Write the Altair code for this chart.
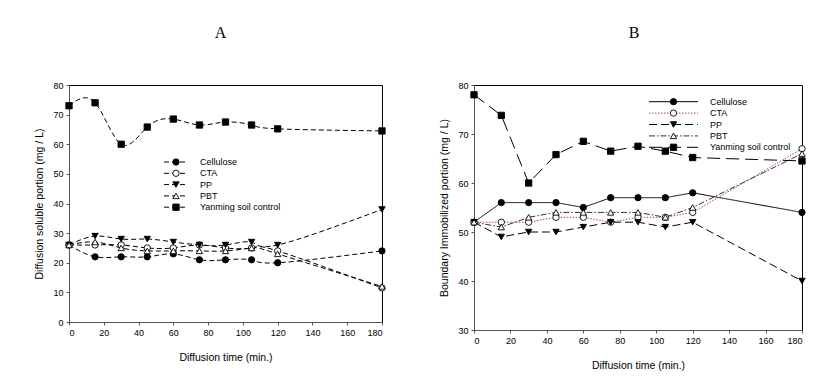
import altair as alt
import pandas as pd

# ---- data ----
time = [0, 15, 30, 45, 60, 75, 90, 105, 120, 180]
series = ["Cellulose", "CTA", "PP", "PBT", "Yanming soil control"]

# Panel A: diffusion soluble portion (mg/L)
a_cellulose = [26, 22, 22, 22, 23, 21, 21, 21, 20, 24]
a_cta = [26, 26, 26, 25, 25, 26, 25, 25, 24, 11.5]
a_pp = [26, 29, 28, 28, 27, 26, 26, 27, 26, 38]
a_pbt = [26, 27, 25, 24, 24, 24, 24, 25, 23, 12]
a_yanming = [73, 74, 60, 65.8, 68.5, 66.5, 67.5, 66.5, 65.2, 64.5]

# Panel B: boundary immobilized portion (mg/L)
b_cellulose = [52, 56, 56, 56, 55, 57, 57, 57, 58, 54]
b_cta = [52, 52, 52, 53, 53, 52, 53, 53, 54, 67]
b_pp = [52, 49, 50, 50, 51, 52, 52, 51, 52, 40]
b_pbt = [52, 51, 53, 54, 54, 54, 54, 53, 55, 66]
b_yanming = [78, 73.8, 60, 65.8, 68.5, 66.5, 67.5, 66.5, 65.2, 64.5]

shapes = ["circle", "circle", "triangle-down", "triangle-up", "square"]
fills = ["black", "white", "black", "white", "black"]

FONT = "Liberation Sans"


def long_df(cols):
    rows = []
    for name, vals in zip(series, cols):
        for t, v in zip(time, vals):
            rows.append({"time": t, "value": v, "series": name})
    return pd.DataFrame(rows)


def panel(cols, ydomain, ytitle, title, colors, dashes, interp, w, h,
          leg_x0, leg_x1, leg_y0, leg_dy, title_offset, title_dx):
    df = long_df(cols)
    leg = pd.DataFrame({"series": series})
    leg["ly"] = [leg_y0 + i * leg_dy for i in range(len(series))]

    color = alt.Color("series:N", scale=alt.Scale(domain=series, range=colors), legend=None)
    dash = alt.StrokeDash("series:N", scale=alt.Scale(domain=series, range=dashes), legend=None)
    shape = alt.Shape("series:N", scale=alt.Scale(domain=series, range=shapes), legend=None)
    fill = alt.Fill("series:N", scale=alt.Scale(domain=series, range=fills), legend=None)

    x = alt.X("time:Q", scale=alt.Scale(domain=[0, 180], nice=False),
              axis=alt.Axis(values=list(range(0, 181, 20)), title="Diffusion time (min.)",
                            titlePadding=15, labelOverlap=False, tickCount=10))
    y = alt.Y("value:Q", scale=alt.Scale(domain=ydomain, nice=False),
              axis=alt.Axis(values=list(range(ydomain[0], ydomain[1] + 1, 10)), title=ytitle,
                            titlePadding=8, labelOverlap=False))

    lines = alt.Chart(df).mark_line(strokeWidth=1, interpolate=interp).encode(
        x=x, y=y, color=color, strokeDash=dash, detail="series:N")
    pts = alt.Chart(df).mark_point(filled=True, stroke="black", strokeWidth=0.9,
                                   size=40, opacity=1).encode(
        x=x, y=y, shape=shape, fill=fill)

    lrule = alt.Chart(leg).mark_rule(strokeWidth=1).encode(
        x=alt.value(leg_x0), x2=alt.value(leg_x1),
        y=alt.Y("ly:Q", scale=None), color=color, strokeDash=dash)
    lpt = alt.Chart(leg).mark_point(filled=True, stroke="black", strokeWidth=0.9,
                                    size=40, opacity=1).encode(
        x=alt.value((leg_x0 + leg_x1) / 2), y=alt.Y("ly:Q", scale=None),
        shape=shape, fill=fill)
    ltxt = alt.Chart(leg).mark_text(align="left", baseline="middle", font=FONT,
                                    fontSize=9, color="black").encode(
        x=alt.value(leg_x1 + 12), y=alt.Y("ly:Q", scale=None), text="series:N")

    return alt.layer(lines, pts, lrule, lpt, ltxt).properties(
        width=w, height=h,
        title=alt.Title(title, font="Liberation Serif", fontSize=16, fontWeight="normal",
                        frame="group", offset=title_offset, dx=title_dx, color="black"))


left = panel([a_cellulose, a_cta, a_pp, a_pbt, a_yanming], [0, 80],
             "Diffusion soluble portion (mg / L)", "A",
             ["black"] * 5, [[5, 3]] * 5, "natural", 313, 237,
             95, 119, 77, 11.3, 40, -5)

right = panel([b_cellulose, b_cta, b_pp, b_pbt, b_yanming], [30, 80],
              "Boundary Immobilized portion (mg / L)", "B",
              ["black", "#b04a4a", "black", "#333333", "black"],
              [[1, 0], [1.5, 1.5], [8, 4], [6, 2, 1.5, 2], [13, 6]], "linear", 328, 245,
              175, 224, 16.7, 11.4, 40, -4)

chart = alt.hconcat(left, right, spacing=51).resolve_scale(
    color="independent", strokeDash="independent", shape="independent", fill="independent"
).properties(
    padding={"left": 26, "top": 16, "right": 5, "bottom": 5}
).configure_view(stroke="black", strokeWidth=1).configure_axis(
    labelFont=FONT, titleFont=FONT, labelFontSize=9, titleFontSize=10.5,
    titleFontWeight="normal", labelColor="black", titleColor="black",
    grid=False, tickSize=3, labelPadding=3, domainColor="#555", tickColor="#555",
    labelOverlap=False
)

chart.save("out.html", embed_options={"renderer": "svg", "actions": False})
